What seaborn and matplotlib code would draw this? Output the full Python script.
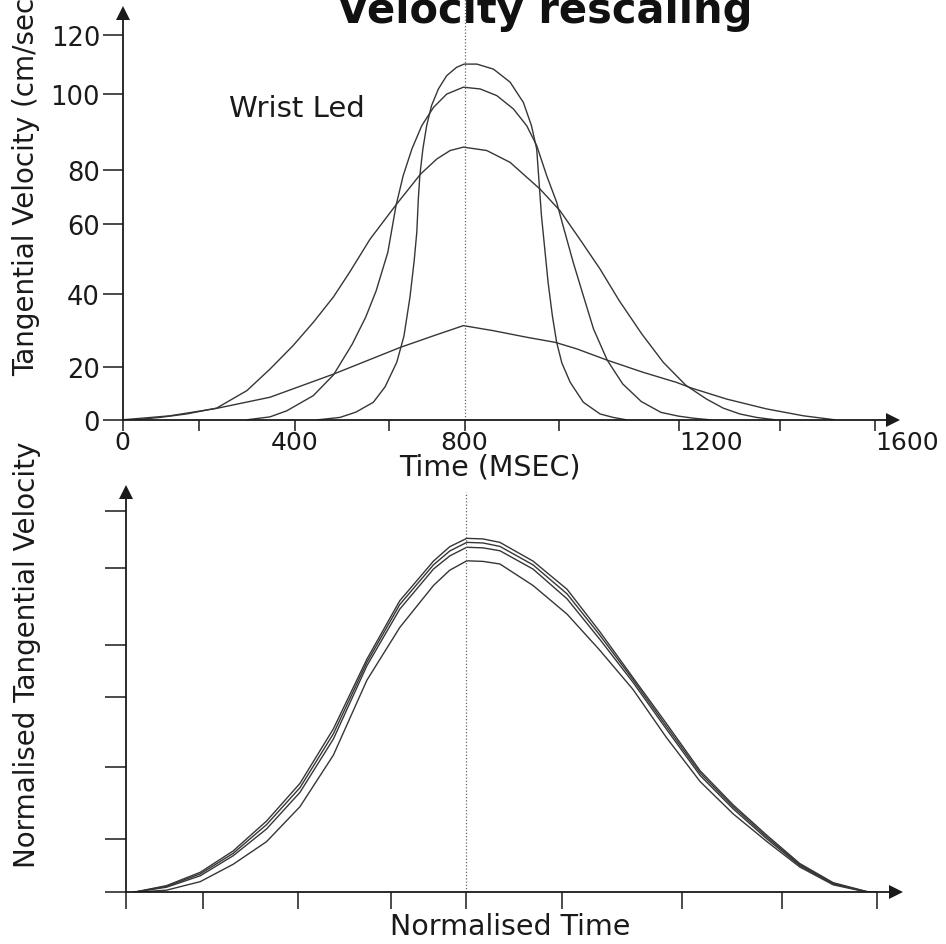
import numpy as np
import pandas as pd
import matplotlib
matplotlib.use("Agg")
import matplotlib.pyplot as plt
import seaborn as sns

# ---------------- data: top panel (time in ms, velocity in cm/sec) ----------------
time_a = [449, 496, 530, 567, 592, 621, 640, 656, 667, 674, 678, 682, 690, 700, 713, 731, 753,
          779, 799, 826, 861, 896, 924, 941, 952, 957, 962, 969, 976, 985, 994, 1004, 1018,
          1040, 1068, 1090, 1112]
vel_a = [0, 0.9, 2.9, 6.6, 12.4, 21.2, 28.4, 39.2, 49.4, 57.6, 69.2, 77.9, 85.5, 91.6, 96.9,
         101.6, 106.1, 108.9, 110.0, 110.0, 108.3, 103.9, 97.7, 91.6, 85.5, 75.4, 63.0, 52.8,
         43.3, 34.0, 26.7, 21.0, 14.1, 6.6, 2.2, 0.9, 0]

time_b = [300, 348, 383, 439, 482, 522, 551, 573, 598, 619, 638, 661, 687, 718, 753, 797, 833,
          868, 903, 931, 952, 973, 994, 1006, 1023, 1040, 1057, 1080, 1106, 1137, 1170, 1199,
          1229, 1262]
vel_b = [0, 1.1, 3.4, 9.1, 16.9, 26.2, 33.7, 40.9, 51.9, 66.7, 77.9, 85.5, 91.6, 96.4, 99.9,
         102.2, 101.6, 99.5, 96.0, 91.6, 86.4, 77.9, 68.0, 59.4, 49.0, 39.5, 30.4, 21.8, 13.5,
         6.9, 2.8, 1.4, 0.6, 0]

time_c = [33, 98, 168, 237, 300, 348, 396, 439, 482, 517, 560, 619, 684, 727, 762, 797, 847,
          896, 959, 1001, 1034, 1068, 1100, 1138, 1174, 1214, 1255, 1288, 1321, 1354, 1391]
vel_c = [0, 0.9, 2.2, 4.4, 11.0, 19.1, 25.8, 32.2, 39.2, 46.3, 55.6, 67.0, 78.5, 82.9, 85.1,
         86.0, 85.1, 82.0, 72.9, 64.8, 55.6, 47.1, 38.2, 29.0, 21.2, 13.0, 7.8, 4.4, 2.2, 0.9, 0]

time_d = [0, 59, 124, 237, 348, 482, 630, 718, 797, 861, 931, 991, 1029, 1080, 1140, 1196,
          1226, 1295, 1374, 1450, 1516]
vel_d = [0, 0.7, 1.5, 4.3, 8.5, 17.2, 25.3, 28.5, 31.3, 29.9, 28.1, 26.7, 24.9, 21.8, 17.9,
         14.1, 11.9, 7.8, 4.1, 1.5, 0]

# ---------------- data: bottom panel (normalised time %, normalised velocity) ----------------
norm_time = [1.2, 6.6, 12.1, 16.5, 20.9, 25.3, 29.8, 34.3, 39.0, 44.6, 47.3, 50.1, 52.2, 54.4,
             58.7, 63.0, 66.4, 69.9, 73.4, 77.3, 81.4, 85.6, 89.8, 94.2, 98.6, 100]
norm_vel_1 = [0, 0.025, 0.075, 0.155, 0.25, 0.355, 0.51, 0.745, 0.915, 1.025, 1.075, 1.104,
              1.102, 1.09, 1.025, 0.945, 0.835, 0.675, 0.525, 0.39, 0.295, 0.21, 0.108, 0.036,
              0.003, 0]
norm_vel_2 = [0, 0.022, 0.069, 0.146, 0.24, 0.343, 0.496, 0.733, 0.905, 1.012, 1.06, 1.090,
              1.088, 1.076, 1.012, 0.933, 0.826, 0.667, 0.517, 0.384, 0.290, 0.205, 0.104,
              0.034, 0.002, 0]
norm_vel_3 = [0, 0.019, 0.062, 0.137, 0.228, 0.330, 0.481, 0.720, 0.893, 0.998, 1.043, 1.073,
              1.071, 1.061, 0.998, 0.920, 0.815, 0.657, 0.509, 0.377, 0.284, 0.200, 0.100,
              0.031, 0.002, 0]
norm_vel_4 = [0, 0.008, 0.040, 0.105, 0.19, 0.29, 0.435, 0.665, 0.845, 0.955, 0.995, 1.026,
              1.024, 1.015, 0.955, 0.88, 0.78, 0.63, 0.485, 0.36, 0.27, 0.19, 0.095, 0.028,
              0.001, 0]

# ---------------- ticks ----------------
top_time_ticks = [0, 200, 400, 600, 800, 1000, 1200, 1400, 1600]
top_time_labels = ["0", "", "400", "", "800", "", "1200", "", "1600"]
top_vel_ticks = [0, 20, 40, 60, 80, 100, 120]
top_vel_labels = ["0", "20", "40", "60", "80", "100", "120"]
norm_time_ticks = [0, 12.5, 25, 37.5, 50, 62.5, 75, 87.5, 100]
norm_vel_ticks = [0, 0.2, 0.4, 0.6, 0.8, 1.0, 1.2]

# ---------------- layout (pixels) ----------------
W, H = 946, 945
TOP_BOX = (122.5, 14.0, 893.0, 420.8)      # left, top, right, bottom
TOP_XTICK_PX = [122.5, 198.8, 295, 388.8, 464.5, 559.5, 678.8, 779.7, 875]
TOP_YTICK_PX = [420.8, 367.7, 295, 224.7, 171, 94.7, 35.5]
BOT_BOX = (126.0, 492.5, 895.5, 893.3)
BOT_XTICK_PX = [126, 202.7, 297.7, 390.7, 466, 562.3, 681.7, 782.3, 877.3]
BOT_YTICK_PX = [893.3, 840, 768.3, 698.3, 645.7, 569.3, 511.7]

LINE = "#363636"
AXC = "#1a1a1a"


def piecewise(vals, pos):
    vals = np.asarray(vals, float)
    pos = np.asarray(pos, float)

    def _map(v, a, b):
        v = np.asarray(v, float)
        out = np.interp(v, a, b)
        s0 = (b[1] - b[0]) / (a[1] - a[0])
        s1 = (b[-1] - b[-2]) / (a[-1] - a[-2])
        out = np.where(v < a[0], b[0] + (v - a[0]) * s0, out)
        out = np.where(v > a[-1], b[-1] + (v - a[-1]) * s1, out)
        return out

    return (lambda v: _map(v, vals, pos)), (lambda p: _map(p, pos, vals))


def to_axes(box, px, py):
    l, t, r, b = box
    return (px - l) / (r - l), (b - py) / (b - t)


sns.set_theme(style="ticks")
plt.rcParams["font.family"] = ["DejaVu Sans"]
plt.rcParams["text.color"] = AXC

fig = plt.figure(figsize=(W / 100, H / 100), dpi=100)
fig.patch.set_facecolor("white")


def add_axes(box):
    l, t, r, b = box
    return fig.add_axes([l / W, (H - b) / H, (r - l) / W, (b - t) / H])


def style_axes(ax, box, xt_px, yt_px, xticks, yticks):
    fx = piecewise(xticks, xt_px)
    fy = piecewise(yticks, -np.asarray(yt_px, float))
    ax.set_xscale("function", functions=fx)
    ax.set_yscale("function", functions=fy)
    ax.set_xlim(0, float(fx[1](box[2])))
    ax.set_ylim(0, float(fy[1](-box[1])))
    ax.set_facecolor("white")
    for s in ["top", "right"]:
        ax.spines[s].set_visible(False)
    for s in ["left", "bottom"]:
        ax.spines[s].set_color(AXC)
        ax.spines[s].set_linewidth(1.3)
    ax.plot([0], [1], marker="^", ms=10.5, color=AXC, mew=0,
            transform=ax.transAxes, clip_on=False)
    ax.plot([1], [0], marker=">", ms=10.5, color=AXC, mew=0,
            transform=ax.transAxes, clip_on=False)


# ---------------- top panel ----------------
ax1 = add_axes(TOP_BOX)
top_df = pd.concat([
    pd.DataFrame({"time": time_a, "velocity": vel_a, "trial": "A"}),
    pd.DataFrame({"time": time_b, "velocity": vel_b, "trial": "B"}),
    pd.DataFrame({"time": time_c, "velocity": vel_c, "trial": "C"}),
    pd.DataFrame({"time": time_d, "velocity": vel_d, "trial": "D"}),
], ignore_index=True)
sns.lineplot(data=top_df, x="time", y="velocity", units="trial", estimator=None,
             sort=False, color=LINE, lw=1.0, legend=False, ax=ax1)
style_axes(ax1, TOP_BOX, TOP_XTICK_PX, TOP_YTICK_PX, top_time_ticks, top_vel_ticks)
ax1.axvline(800, ymin=0, ymax=TOP_BOX[3] / (TOP_BOX[3] - TOP_BOX[1]), clip_on=False,
            ls=(0, (1, 1.6)), lw=0.9, color="#666666")
ax1.set_xticks(top_time_ticks, top_time_labels)
ax1.set_yticks(top_vel_ticks, top_vel_labels)
ax1.tick_params(axis="x", direction="out", length=8, width=1.1, pad=-1,
                labelsize=18, colors=AXC, bottom=True)
ax1.tick_params(axis="y", direction="out", length=14.4, width=1.1, pad=1.8,
                labelsize=18.5, colors=AXC, left=True)
for lab, t in zip(ax1.get_xticklabels(), top_time_ticks):
    if t >= 1200:
        lab.set_ha("left")
ax1.set_xlabel("Time (MSEC)", fontsize=20.5, color=AXC)
ax1.xaxis.set_label_coords(*to_axes(TOP_BOX, 490, 468))
ax1.xaxis.label.set_va("center")
ax1.set_ylabel("Tangential Velocity (cm/sec)", fontsize=20, color=AXC)
ax1.yaxis.set_label_coords(*to_axes(TOP_BOX, 26, 182))
ax1.yaxis.label.set_va("center")
ax1.text(*to_axes(TOP_BOX, 297, 109), "Wrist Led", transform=ax1.transAxes,
         ha="center", va="center", fontsize=21, color=AXC)

# ---------------- bottom panel ----------------
ax2 = add_axes(BOT_BOX)
bot_df = pd.concat([
    pd.DataFrame({"ntime": norm_time, "nvel": v, "trial": k})
    for k, v in [("1", norm_vel_1), ("2", norm_vel_2), ("3", norm_vel_3), ("4", norm_vel_4)]
], ignore_index=True)
sns.lineplot(data=bot_df, x="ntime", y="nvel", units="trial", estimator=None,
             sort=False, color=LINE, lw=1.0, legend=False, ax=ax2)
style_axes(ax2, BOT_BOX, BOT_XTICK_PX, BOT_YTICK_PX, norm_time_ticks, norm_vel_ticks)
ax2.axvline(50, ymin=0, ymax=1.0, ls=(0, (1, 1.6)), lw=0.9, color="#666666")
ax2.set_xticks(norm_time_ticks)
ax2.set_yticks(norm_vel_ticks)
ax2.tick_params(axis="x", direction="out", length=12.2, width=1.1,
                labelbottom=False, colors=AXC, bottom=True)
ax2.tick_params(axis="y", direction="out", length=15, width=1.1,
                labelleft=False, colors=AXC, left=True)
ax2.set_xlabel("Normalised Time", fontsize=20.5, color=AXC)
ax2.xaxis.set_label_coords(*to_axes(BOT_BOX, 510, 927))
ax2.xaxis.label.set_va("center")
ax2.set_ylabel("Normalised Tangential Velocity", fontsize=20, color=AXC)
ax2.yaxis.set_label_coords(*to_axes(BOT_BOX, 27, 655))
ax2.yaxis.label.set_va("center")

# ---------------- title ----------------
fig.text(545 / W, 1 - 23 / H, "Velocity rescaling", ha="center", va="baseline",
         fontsize=30, fontweight="bold", color="#111111")

fig.savefig("out.png", dpi=100, facecolor="white")
